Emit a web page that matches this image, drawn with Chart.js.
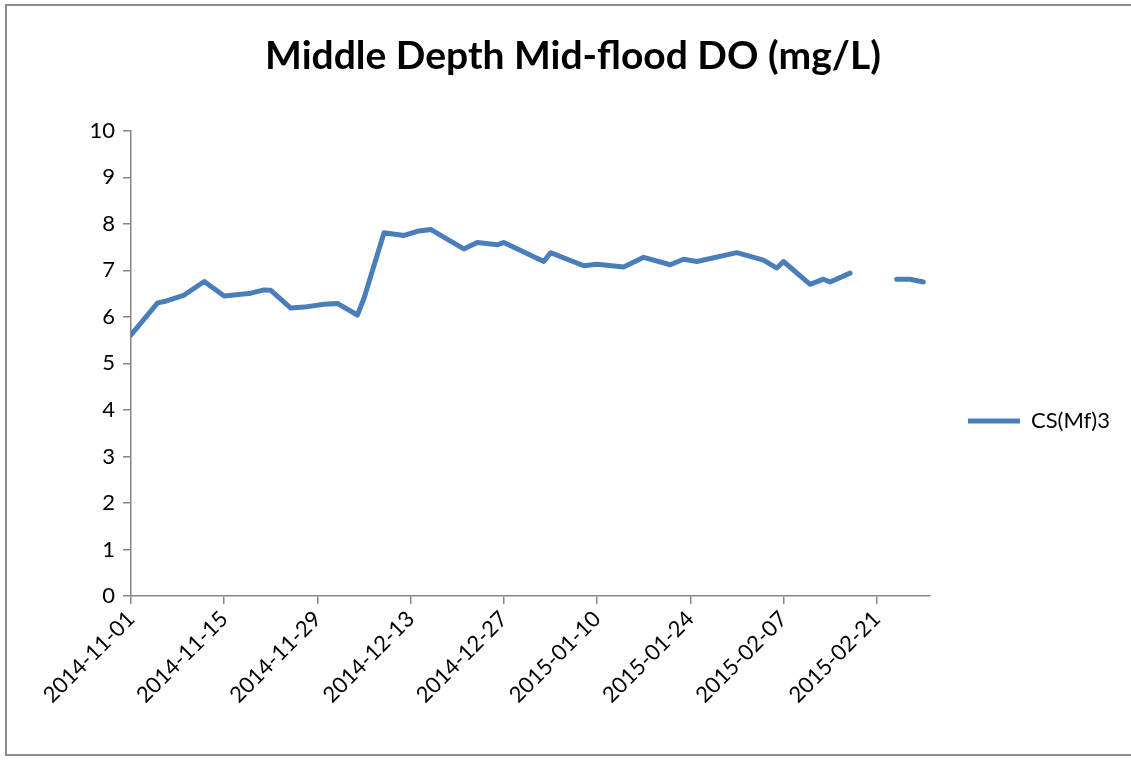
<!DOCTYPE html>
<html>
<head>
<meta charset="utf-8">
<script src="https://cdn.jsdelivr.net/npm/chart.js@4.4.1/dist/chart.umd.min.js"></script>
<style>
  html, body { margin: 0; padding: 0; background: #fff; overflow: hidden; width: 1131px; height: 760px; }
  #frame { position: absolute; left: 5px; top: 4px; width: 1130px; height: 752px; border: 2px solid #8c8c8c; box-sizing: border-box; }
  #wrap { position: absolute; left: 0; top: 0; width: 1120px; height: 842px; }
</style>
</head>
<body>
<div id="frame"></div>
<div id="wrap"><canvas id="chart"></canvas></div>
<script>
// sample dates and DO readings (mg/L); null = no reading
const dates = [
  "2014-11-01", "2014-11-05", "2014-11-06", "2014-11-09", "2014-11-12", "2014-11-15",
  "2014-11-19", "2014-11-21", "2014-11-22", "2014-11-25", "2014-11-27", "2014-11-30",
  "2014-12-02", "2014-12-05", "2014-12-06", "2014-12-09", "2014-12-12", "2014-12-14",
  "2014-12-16", "2014-12-19", "2014-12-21", "2014-12-23", "2014-12-26", "2014-12-27",
  "2015-01-02", "2015-01-03", "2015-01-08", "2015-01-10", "2015-01-14", "2015-01-17",
  "2015-01-21", "2015-01-23", "2015-01-25", "2015-01-31", "2015-02-04", "2015-02-06",
  "2015-02-07", "2015-02-11", "2015-02-13", "2015-02-14", "2015-02-17", "2015-02-20",
  "2015-02-24", "2015-02-26", "2015-02-28"
];
const csMf3 = [
  5.61, 6.30, 6.33, 6.47, 6.76, 6.45,
  6.51, 6.58, 6.57, 6.19, 6.21, 6.27,
  6.29, 6.04, 6.40, 7.81, 7.75, 7.84,
  7.88, 7.63, 7.46, 7.60, 7.55, 7.60,
  7.19, 7.38, 7.10, 7.13, 7.07, 7.28,
  7.12, 7.24, 7.19, 7.38, 7.22, 7.05,
  7.19, 6.70, 6.81, 6.75, 6.94, null,
  6.81, 6.81, 6.75
];
const axisStart = "2014-11-01";
const axisEnd = "2015-03-01";
const tickDates = [
  "2014-11-01", "2014-11-15", "2014-11-29", "2014-12-13", "2014-12-27",
  "2015-01-10", "2015-01-24", "2015-02-07", "2015-02-21"
];
const yTicks = [0, 1, 2, 3, 4, 5, 6, 7, 8, 9, 10];

const DAY = 86400000;
const toDay = s => (Date.parse(s + "T00:00:00Z") - Date.parse(axisStart + "T00:00:00Z")) / DAY;
const fromDay = d => new Date(Date.parse(axisStart + "T00:00:00Z") + d * DAY).toISOString().slice(0, 10);

const points = dates.map((d, i) => ({ x: toDay(d), y: csMf3[i] }));
const axisGray = "#868686";
const blue = "#4a7ebb";

new Chart(document.getElementById("chart").getContext("2d"), {
  type: "line",
  data: {
    datasets: [{
      label: "CS(Mf)3",
      data: points,
      borderColor: blue,
      backgroundColor: blue,
      borderWidth: 5,
      borderCapStyle: "round",
      borderJoinStyle: "round",
      pointRadius: 0,
      tension: 0,
      spanGaps: false
    }]
  },
  options: {
    responsive: true,
    maintainAspectRatio: false,
    animation: false,
    layout: { padding: { left: 26 } },
    plugins: {
      title: {
        display: true,
        text: "Middle Depth Mid-flood DO (mg/L)",
        color: "#000",
        font: { family: "Lato", size: 39, weight: "bold" },
        padding: { top: 33, bottom: 51 }
      },
      legend: {
        position: "right",
        labels: {
          color: "#000",
          font: { family: "Lato", size: 22 },
          boxWidth: 52,
          boxHeight: 5,
          padding: 38,
          generateLabels: chart => Chart.defaults.plugins.legend.labels.generateLabels(chart)
            .map(l => ({ ...l, lineWidth: 0 }))
        }
      },
      tooltip: { enabled: false }
    },
    scales: {
      x: {
        type: "linear",
        min: toDay(axisStart),
        max: toDay(axisEnd),
        afterBuildTicks: axis => { axis.ticks = tickDates.map(d => ({ value: toDay(d) })); },
        afterFit: axis => { axis.height = 842 - 596; },
        grid: { drawOnChartArea: false, drawTicks: true, tickLength: 8, color: axisGray, lineWidth: 1.5 },
        border: { color: axisGray, width: 1.5 },
        ticks: {
          color: "#000",
          font: { family: "Lato", size: 22 },
          maxRotation: 45,
          minRotation: 45,
          autoSkip: false,
          padding: 2,
          callback: v => fromDay(v)
        }
      },
      y: {
        min: 0,
        max: 10,
        afterBuildTicks: axis => { axis.ticks = yTicks.map(v => ({ value: v })); },
        afterFit: axis => { axis.width = 105; },
        grid: { drawOnChartArea: false, drawTicks: true, tickLength: 8, color: axisGray, lineWidth: 1.5 },
        border: { color: axisGray, width: 1.5 },
        ticks: {
          color: "#000",
          font: { family: "Lato", size: 22 },
          padding: 8
        }
      }
    }
  }
});
</script>
</body>
</html>
